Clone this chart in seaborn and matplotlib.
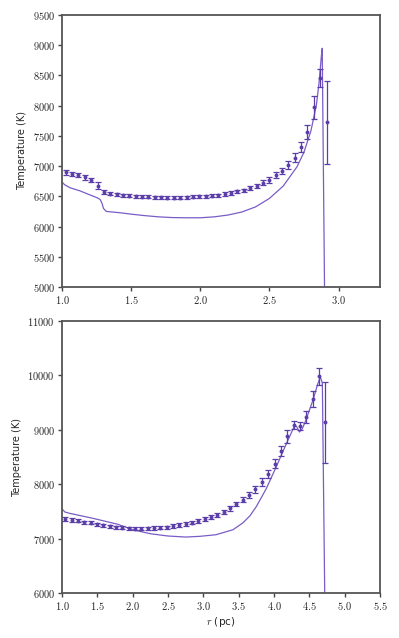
import numpy as np
import pandas as pd
import seaborn as sns
import matplotlib.pyplot as plt
from matplotlib.ticker import FuncFormatter, MultipleLocator

# --- top panel: data points (r in pc, T in K, 1-sigma errors) ---
R_TOP = [1.027 + 0.046 * i for i in range(42)]
T_TOP = [6897, 6870, 6850, 6815, 6770, 6675, 6570, 6545, 6530, 6520,
         6510, 6500, 6495, 6490, 6485, 6482, 6480, 6480, 6480, 6485,
         6490, 6499, 6499, 6510, 6521, 6538, 6555, 6582, 6599, 6632,
         6676, 6726, 6770, 6847, 6919, 7018, 7139, 7310, 7558, 7972,
         8452, 7725]
E_TOP = [40, 40, 38, 38, 40, 55, 30, 28, 25, 25,
         25, 25, 25, 25, 25, 25, 25, 25, 25, 25,
         25, 25, 25, 25, 25, 28, 28, 30, 30, 32,
         35, 40, 45, 47, 55, 66, 72, 83, 116, 185,
         150, 690]

# top panel: model curve
RM_TOP = [1.00, 1.02, 1.06, 1.13, 1.20, 1.25, 1.275, 1.29, 1.30, 1.32,
          1.42, 1.50, 1.60, 1.70, 1.80, 1.90, 2.00, 2.10, 2.20, 2.30,
          2.40, 2.50, 2.60, 2.70, 2.75, 2.80, 2.84, 2.86, 2.875, 2.882,
          2.900]
TM_TOP = [6735, 6690, 6640, 6590, 6525, 6480, 6450, 6380, 6300, 6250,
          6228, 6205, 6180, 6160, 6148, 6145, 6145, 6160, 6190, 6240,
          6325, 6465, 6670, 6990, 7230, 7580, 8010, 8400, 8800, 8949,
          4700]

# --- bottom panel: data points ---
R_BOT = [1.047 + 0.0897 * i for i in range(42)]
T_BOT = [7360, 7340, 7325, 7305, 7290, 7265, 7245, 7228, 7210, 7198,
         7190, 7185, 7185, 7188, 7195, 7202, 7213, 7230, 7250, 7272,
         7295, 7330, 7354, 7391, 7440, 7489, 7562, 7636, 7716, 7808,
         7906, 8040, 8187, 8377, 8604, 8880, 9088, 9064, 9235, 9572,
         9983, 9138]
E_BOT = [35, 30, 28, 28, 28, 28, 28, 28, 28, 28,
         28, 28, 28, 28, 28, 28, 28, 30, 30, 32,
         32, 35, 35, 38, 40, 40, 45, 45, 50, 55,
         60, 70, 80, 83, 92, 116, 70, 74, 105, 147,
         150, 740]

# bottom panel: model curve
RM_BOT = [1.00, 1.014, 1.04, 1.108, 1.438, 1.792, 2.00, 2.25, 2.50, 2.75,
          2.95, 3.18, 3.42, 3.56, 3.66, 3.75, 3.89, 4.03, 4.175, 4.29,
          4.32, 4.36, 4.40, 4.45, 4.55, 4.62, 4.656, 4.684, 4.722]
TM_BOT = [7550, 7526, 7490, 7465, 7373, 7263, 7164, 7090, 7048, 7029,
          7042, 7072, 7164, 7290, 7420, 7590, 7918, 8316, 8745, 9075,
          9060, 8960, 9020, 9174, 9542, 9848, 9971, 9860, 5500]

LINE_C = '#7a5cc6'
PT_C = '#5b3ea8'

sns.set_theme(style="ticks")
plt.rcParams['font.family'] = ['DejaVu Sans']
plt.rcParams['mathtext.fontset'] = 'cm'


def style_axes(ax, xlim, ylim, xstep, ystep):
	ax.set_xlim(*xlim)
	ax.set_ylim(*ylim)
	ax.xaxis.set_major_locator(MultipleLocator(xstep))
	ax.yaxis.set_major_locator(MultipleLocator(ystep))
	ax.xaxis.set_major_formatter(FuncFormatter(lambda v, p: f"${v:.1f}$"))
	ax.yaxis.set_major_formatter(FuncFormatter(lambda v, p: f"${v:.0f}$"))
	ax.tick_params(labelsize=7.5, length=3, width=1.0, color='#444444', pad=2)
	for s in ax.spines.values():
		s.set_color('#555555')
		s.set_linewidth(1.3)
	ax.set_ylabel('Temperature (K)', fontsize=7)
	ax.set_xlabel('')


def draw_panel(ax, r, t, e, rm, tm):
	model = pd.DataFrame({'r': rm, 'T': tm})
	sns.lineplot(data=model, x='r', y='T', ax=ax, color=LINE_C, lw=0.9,
	             sort=False, estimator=None)
	ax.errorbar(r, t, yerr=e, fmt='o', ms=1.8, color=PT_C, ecolor=PT_C,
	            elinewidth=0.9, capsize=2.2, capthick=0.9, zorder=3)


fig = plt.figure(figsize=(3.99, 6.38), dpi=100)
ax1 = fig.add_axes([0.1554, 0.5502, 0.7970, 0.4263])
ax2 = fig.add_axes([0.1554, 0.0705, 0.7970, 0.4263])

draw_panel(ax1, R_TOP, T_TOP, E_TOP, RM_TOP, TM_TOP)
style_axes(ax1, (1.0, 3.3), (5000, 9500), 0.5, 500)

draw_panel(ax2, R_BOT, T_BOT, E_BOT, RM_BOT, TM_BOT)
style_axes(ax2, (1.0, 5.5), (6000, 11000), 0.5, 1000)
ax2.set_xlabel('$r$ (pc)', fontsize=7.5, labelpad=2)

fig.savefig('out.png', dpi=100)
